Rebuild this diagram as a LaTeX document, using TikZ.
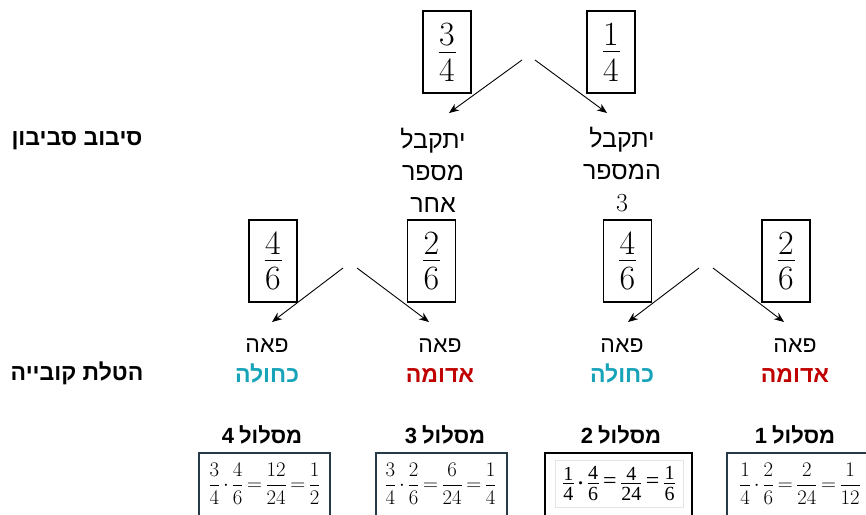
\documentclass[tikz,border=0pt]{standalone}
\usepackage{fontspec}
\usepackage{amsmath}
\usetikzlibrary{arrows.meta}
\TeXXeTstate=1
\newfontfamily\heb[Script=Hebrew]{Liberation Sans}
\newfontfamily\tms{Liberation Serif}
\definecolor{tealc}{RGB}{23,163,184}
\definecolor{redc}{RGB}{192,0,0}
\definecolor{frm}{RGB}{38,58,72}
\newcommand\R[1]{\beginR #1\endR}
\newcommand\bigfr[2]{\shortstack{#1\\[3pt]\rule{17pt}{0.9pt}\\[3pt]#2}}
\newcommand\sfr[3]{\vcenter{\hbox{\shortstack{#2\\\rule{#1}{0.8pt}\\#3}}}}
\begin{document}
\begin{tikzpicture}[x=1pt,y=-1pt,
  fracbox/.style={draw, line width=1.1pt, minimum width=48pt, minimum height=82pt, inner sep=0pt, font=\fontsize{34}{34}\selectfont},
  hebtxt/.style={font=\heb\fontsize{25}{32}\selectfont, align=center, inner sep=0pt},
  facetxt/.style={font=\heb\fontsize{23}{30}\selectfont, align=center, inner sep=0pt},
  lbl/.style={font=\heb\bfseries\fontsize{23}{26}\selectfont, inner sep=0pt},
  hdr/.style={font=\heb\bfseries\fontsize{22}{24}\selectfont, inner sep=0pt},
  eqtxt/.style={font=\fontsize{20}{24}\selectfont, inner sep=0pt},
  eqframe/.style={draw=frm, line width=1.3pt},
  arr/.style={-{Stealth[length=10pt,width=8pt]}, line width=0.9pt}
]
\useasboundingbox (0,0) rectangle (866,514);
\clip (0,0) rectangle (866,514);

% side labels
\node[lbl] (lab1) at (77,141) {\R{סיבוב סביבון}};
\node[lbl] (lab2) at (77,373) {\R{הטלת קובייה}};

% top level
\node[fracbox] (p34) at (447,52) {\bigfr{3}{4}};
\node[fracbox] (p14) at (611,52) {\bigfr{1}{4}};
\coordinate (s1a) at (522,60);
\coordinate (s1b) at (535,60);
\coordinate (e1a) at (449,113);
\coordinate (e1b) at (607,113);
\draw[arr] (s1a) -- (e1a);
\draw[arr] (s1b) -- (e1b);

\node[hebtxt] (other) at (433,170) {\R{יתקבל}\\ \R{מספר}\\ \R{אחר}};
\node[hebtxt] (three) at (622,170) {\R{יתקבל}\\ \R{המספר}\\ {\rmfamily\fontsize{26}{32}\selectfont 3}};

% middle level
\node[fracbox] (q1) at (273,261) {\bigfr{4}{6}};
\node[fracbox] (q2) at (431.5,261) {\bigfr{2}{6}};
\node[fracbox] (q3) at (627.5,261) {\bigfr{4}{6}};
\node[fracbox] (q4) at (786,261) {\bigfr{2}{6}};

\coordinate (s2a) at (343,268);
\coordinate (s2b) at (357,268);
\coordinate (s3a) at (699,268);
\coordinate (s3b) at (713,268);
\coordinate (e2a) at (272,322);
\coordinate (e2b) at (429,322);
\coordinate (e3a) at (628,322);
\coordinate (e3b) at (784,322);
\draw[arr] (s2a) -- (e2a);
\draw[arr] (s2b) -- (e2b);
\draw[arr] (s3a) -- (e3a);
\draw[arr] (s3b) -- (e3b);

\node[facetxt] (f4) at (267,361) {\R{פאה}\\ \textcolor{tealc}{\bfseries\R{כחולה}}};
\node[facetxt] (f3) at (440,361) {\R{פאה}\\ \textcolor{redc}{\bfseries\R{אדומה}}};
\node[facetxt] (f2) at (622,361) {\R{פאה}\\ \textcolor{tealc}{\bfseries\R{כחולה}}};
\node[facetxt] (f1) at (795,361) {\R{פאה}\\ \textcolor{redc}{\bfseries\R{אדומה}}};

% paths
\node[hdr] (h4) at (262,435) {\R{מסלול\hspace{5pt}4}};
\node[hdr] (h3) at (445,435) {\R{מסלול\hspace{5pt}3}};
\node[hdr] (h2) at (621,435) {\R{מסלול\hspace{5pt}2}};
\node[hdr] (h1) at (795,435) {\R{מסלול\hspace{5pt}1}};

\draw[eqframe] (199,453) rectangle (330,540);
\draw[eqframe] (376,453) rectangle (507,540);
\draw[black, line width=2pt] (545,453) rectangle (692,540);
\draw[eqframe] (727,453) rectangle (900,540);

\node[eqtxt] (eq4) at (264.5,484) {\thickmuskip=3mu\medmuskip=2.5mu$\dfrac{3}{4}\cdot\dfrac{4}{6}=\dfrac{12}{24}=\dfrac{1}{2}$};
\node[eqtxt] (eq3) at (440.5,484) {\thickmuskip=3mu\medmuskip=2.5mu$\dfrac{3}{4}\cdot\dfrac{2}{6}=\dfrac{6}{24}=\dfrac{1}{4}$};
\node[eqtxt] (eq1) at (800,484) {\thickmuskip=3mu\medmuskip=2.5mu$\dfrac{1}{4}\cdot\dfrac{2}{6}=\dfrac{2}{24}=\dfrac{1}{12}$};
\node[draw=gray!20, line width=0.6pt, minimum width=128pt, minimum height=47pt, inner sep=0pt, font=\tms\fontsize{20}{22}\selectfont] (eq2) at (619,483.5)
  {\thickmuskip=4mu\medmuskip=3mu$\sfr{11pt}{1}{4}\mathbin{\boldsymbol{\cdot}}\sfr{11pt}{4}{6}\mathrel{\mbox{\fontsize{24}{24}\selectfont =}}\sfr{20pt}{4}{24}\mathrel{\mbox{\fontsize{24}{24}\selectfont =}}\sfr{11pt}{1}{6}$};
\end{tikzpicture}
\end{document}
